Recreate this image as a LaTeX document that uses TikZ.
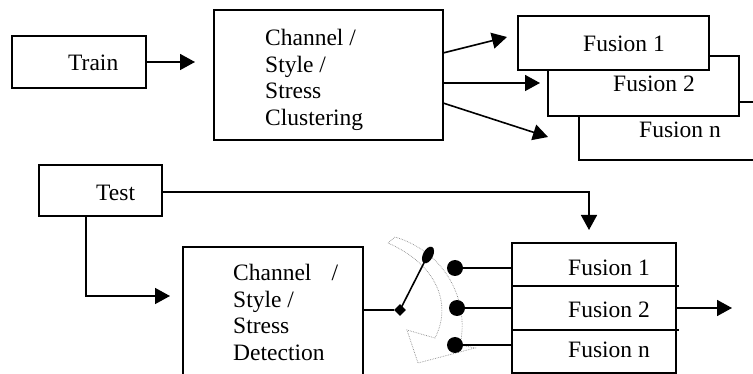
\documentclass[tikz,border=0pt]{standalone}
\usepackage{fontspec}
\setmainfont{Liberation Serif}
\usetikzlibrary{arrows.meta,shapes.geometric}
\begin{document}
\begin{tikzpicture}[x=1pt,y=-1pt,
  box/.style={draw, line width=1.6pt, fill=white, inner sep=0, outer sep=0, anchor=north west},
  lbl/.style={font=\fontsize{23.5}{26.7}\selectfont, inner sep=0, anchor=base west},
  mlbl/.style={font=\fontsize{23.5}{26.7}\selectfont, inner sep=0, anchor=north west, align=left},
  arr/.style={line width=1.6pt, -{Triangle[length=15pt,width=16pt]}},
  wire/.style={line width=1.6pt},
  dot/.style={circle, fill=black, minimum size=16pt, inner sep=0},
  band/.style={draw=gray!90, line width=0.7pt, densely dotted},
]
\useasboundingbox (0,0) rectangle (753,374);

% ---- training part ----
\node[box, minimum width=134pt, minimum height=52pt] (train) at (12,36) {};
\node[lbl] (trainlbl) at (68,71) {Train};
\node[box, minimum width=229pt, minimum height=130pt] (clus) at (214,10) {};
\node[mlbl] (cluslbl) at (265,29) {Channel /\\Style /\\Stress\\Clustering};

\node[box, minimum width=191pt, minimum height=58pt] (tn) at (579,102) {};
\node[box, minimum width=191pt, minimum height=60pt] (t2) at (548,56) {};
\node[box, minimum width=191pt, minimum height=54pt] (t1) at (518,16) {};
\node[lbl] (t1lbl) at (583,52) {Fusion 1};
\node[lbl] (t2lbl) at (613,92) {Fusion 2};
\node[lbl] (tnlbl) at (639,138) {Fusion n};

\coordinate (trE) at (195,62);
\draw[arr] (train.east) -- (trE);
\coordinate (c1s) at (0,53);  \coordinate (c1e) at (507,37);
\coordinate (c2s) at (0,83);  \coordinate (c2e) at (540,83);
\coordinate (c3s) at (0,103); \coordinate (c3e) at (548,137);
\draw[arr] (clus.east |- c1s) -- (c1e);
\draw[arr] (clus.east |- c2s) -- (c2e);
\draw[arr] (clus.east |- c3s) -- (c3e);

% ---- test part ----
\node[box, minimum width=123pt, minimum height=51pt] (test) at (39,165) {};
\node[lbl] (testlbl) at (96,201) {Test};
\node[box, minimum width=180pt, minimum height=140pt] (det) at (183,247) {};
\node[mlbl] (detlbl) at (233,264) {Channel\hspace{20pt}/\\Style /\\Stress\\Detection};

\node[box, minimum width=164pt, minimum height=43pt] (b1) at (512,243) {};
\node[box, minimum width=164pt, minimum height=44pt] (b2) at (512,286) {};
\node[box, minimum width=164pt, minimum height=43pt] (bn) at (512,330) {};
\draw[wire] (b1.south east) -- ++(3,0);
\draw[wire] (b2.south east) -- ++(3,0);
\node[lbl] (b1lbl) at (568,276) {Fusion 1};
\node[lbl] (b2lbl) at (568,318) {Fusion 2};
\node[lbl] (bnlbl) at (568,358) {Fusion n};

\coordinate (tty) at (0,192);
\coordinate (tt) at (589,230);
\draw[arr] (test.east |- tty) -| (tt);
\coordinate (tdx) at (86,0);
\coordinate (td) at (170,296);
\draw[arr] (test.south -| tdx) |- (td);

% rotating selector band
\draw[band] (388,243) -- (395,237)
  .. controls (445,252) and (470,300) .. (460,345)
  -- (475,348) -- (418,363) -- (407,330) -- (435,338)
  .. controls (452,305) and (438,265) .. (388,243) -- cycle;

% switch
\node[diamond, fill=black, minimum size=12pt, inner sep=0] (piv) at (400,310) {};
\draw[wire] (det.east |- piv) -- (piv);
\node[ellipse, fill=black, minimum width=18pt, minimum height=10pt, inner sep=0, rotate=63] (sw) at (428,255) {};
\draw[wire] (piv.center) -- (sw.center);

\node[dot] (d1) at (455,268) {};
\node[dot] (d2) at (457,308) {};
\node[dot] (d3) at (455,345) {};
\draw[wire] (d1) -- (b1.west |- d1);
\draw[wire] (d2) -- (b2.west |- d2);
\draw[wire] (d3) -- (bn.west |- d3);

\coordinate (out) at (732,308);
\draw[arr] (b2.east) -- (out);
\end{tikzpicture}
\end{document}
